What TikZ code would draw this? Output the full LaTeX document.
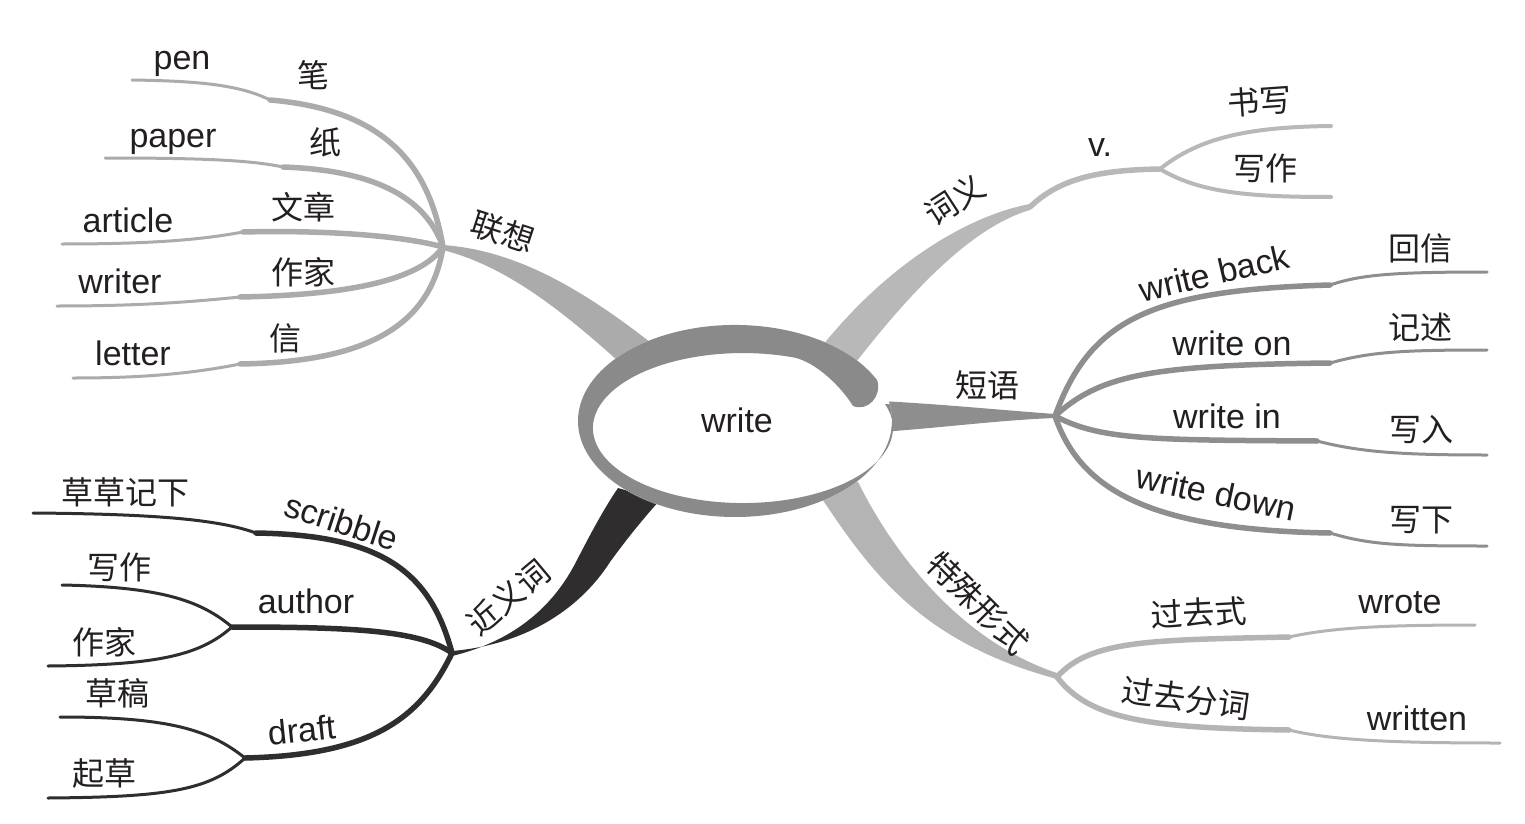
\documentclass[tikz,border=0pt]{standalone}
\usepackage{fontspec}
\setmainfont{Liberation Sans}
\newfontfamily\cjk{Noto Sans CJK SC}
\definecolor{cLX}{HTML}{ABABAB}
\definecolor{cJY}{HTML}{2F2D2E}
\definecolor{cCY}{HTML}{B8B8B8}
\definecolor{cDY}{HTML}{8E8E8E}
\definecolor{cTS}{HTML}{B4B4B4}
\definecolor{cRing}{HTML}{8A8A8A}
\definecolor{txt}{HTML}{231F20}
\tikzset{
  en/.style={font=\fontsize{34}{40}\selectfont, text=txt, inner sep=0pt},
  zh/.style={font=\cjk\fontsize{32}{38}\selectfont, text=txt, inner sep=0pt},
  inb/.style={line width=5.5, line cap=round},
  outb/.style={line width=3, line cap=round},
}
\begin{document}
\begin{tikzpicture}[x=1pt,y=-1pt]
\fill[white] (0,0) rectangle (1525,824);
\useasboundingbox (0,0) rectangle (1525,824);

% ---------- coordinates ----------
\coordinate (hLX) at (443,247);
\coordinate (kPen) at (270,100);   \coordinate (ePen) at (132,80);
\coordinate (kPaper) at (283,167); \coordinate (ePaper) at (105,158);
\coordinate (kArt) at (243,232);   \coordinate (eArt) at (62,244);
\coordinate (kWri) at (240,297);   \coordinate (eWri) at (57,306);
\coordinate (kLet) at (240,364);   \coordinate (eLet) at (73,378);

\coordinate (hJY) at (452,653);
\coordinate (kScr) at (256,533);   \coordinate (eScr) at (33,513);
\coordinate (jAut) at (232,627);
\coordinate (eAut1) at (62,585);   \coordinate (eAut2) at (48,666);
\coordinate (jDra) at (245,758);
\coordinate (eDra1) at (60,717);   \coordinate (eDra2) at (48,798);

\coordinate (kCY) at (1030,207);
\coordinate (hCY) at (1160,169);
\coordinate (eShu) at (1331,126);  \coordinate (eXie) at (1331,197);

\coordinate (hDY) at (1055,416);
\coordinate (kBack) at (1330,285); \coordinate (eBack) at (1487,272);
\coordinate (kOn) at (1330,363);   \coordinate (eOn) at (1487,350);
\coordinate (kIn) at (1317,441);   \coordinate (eIn) at (1487,455);
\coordinate (kDown) at (1330,533); \coordinate (eDown) at (1487,546);

\coordinate (hTS) at (1057,677);
\coordinate (kPast) at (1289,637); \coordinate (ePast) at (1475,625);
\coordinate (kPP) at (1289,730);   \coordinate (ePP) at (1500,743);

% ---------- trunks ----------
\fill[cLX] (443,245) .. controls (510,250) and (575,282) .. (660,350)
  -- (628,370) .. controls (560,308) and (505,266) .. (443,250) -- cycle;
\fill[cJY] (452,656) .. controls (510,642) and (552,610) .. (577,560)
  .. controls (590,535) and (603,510) .. (618,488)
  -- (660,500) .. controls (642,520) and (626,540) .. (610,562)
  .. controls (578,612) and (522,645) .. (452,651) -- cycle;
\fill[cCY] (1030,204) .. controls (975,214) and (890,258) .. (815,355)
  -- (850,370) .. controls (915,285) and (975,226) .. (1030,210) -- cycle;
\fill[cDY] (1055,414) .. controls (1000,410) and (940,404) .. (880,401)
  -- (880,432) .. controls (940,428) and (1000,420) .. (1055,418) -- cycle;
\fill[cTS] (815,488) .. controls (870,572) and (920,642) .. (1057,679)
  -- (1057,673) .. controls (972,645) and (902,570) .. (858,482) -- cycle;

% ---------- sub-branches: lianxiang ----------
\draw[cLX, inb] (hLX) .. controls (430,170) and (390,110) .. (kPen);
\draw[cLX, outb] (kPen) .. controls (240,85) and (200,81) .. (ePen);
\draw[cLX, inb] (hLX) .. controls (425,195) and (370,170) .. (kPaper);
\draw[cLX, outb] (kPaper) .. controls (250,160) and (200,158) .. (ePaper);
\draw[cLX, inb] (hLX) .. controls (400,235) and (320,230) .. (kArt);
\draw[cLX, outb] (kArt) .. controls (200,240) and (150,244) .. (eArt);
\draw[cLX, inb] (hLX) .. controls (420,280) and (350,295) .. (kWri);
\draw[cLX, outb] (kWri) .. controls (190,302) and (140,306) .. (eWri);
\draw[cLX, inb] (hLX) .. controls (430,330) and (360,362) .. (kLet);
\draw[cLX, outb] (kLet) .. controls (190,374) and (140,378) .. (eLet);

% ---------- sub-branches: jinyici ----------
\draw[cJY, inb] (hJY) .. controls (430,570) and (380,535) .. (kScr);
\draw[cJY, outb] (kScr) .. controls (220,520) and (160,514) .. (eScr);
\draw[cJY, inb] (hJY) .. controls (420,630) and (350,627) .. (jAut);
\draw[cJY, outb] (jAut) .. controls (200,600) and (160,587) .. (eAut1);
\draw[cJY, outb] (jAut) .. controls (200,655) and (160,665) .. (eAut2);
\draw[cJY, inb] (hJY) .. controls (420,720) and (370,755) .. (jDra);
\draw[cJY, outb] (jDra) .. controls (210,730) and (170,717) .. (eDra1);
\draw[cJY, outb] (jDra) .. controls (210,790) and (170,797) .. (eDra2);

% ---------- sub-branches: ciyi ----------
\draw[cCY, inb] (kCY) .. controls (1060,178) and (1100,170) .. (hCY);
\draw[cCY, line width=4, line cap=round] (hCY) .. controls (1200,137) and (1250,127) .. (eShu);
\draw[cCY, line width=4, line cap=round] (hCY) .. controls (1200,193) and (1250,197) .. (eXie);

% ---------- sub-branches: duanyu ----------
\draw[cDY, inb] (hDY) .. controls (1090,320) and (1150,290) .. (kBack);
\draw[cDY, outb] (kBack) .. controls (1360,275) and (1390,272) .. (eBack);
\draw[cDY, inb] (hDY) .. controls (1100,375) and (1150,365) .. (kOn);
\draw[cDY, outb] (kOn) .. controls (1370,352) and (1400,350) .. (eOn);
\draw[cDY, inb] (hDY) .. controls (1100,440) and (1150,440) .. (kIn);
\draw[cDY, outb] (kIn) .. controls (1360,452) and (1400,455) .. (eIn);
\draw[cDY, inb] (hDY) .. controls (1080,490) and (1150,530) .. (kDown);
\draw[cDY, outb] (kDown) .. controls (1370,545) and (1400,546) .. (eDown);

% ---------- sub-branches: teshu xingshi ----------
\draw[cTS, inb] (hTS) .. controls (1090,640) and (1150,640) .. (kPast);
\draw[cTS, outb] (kPast) .. controls (1330,628) and (1380,625) .. (ePast);
\draw[cTS, inb] (hTS) .. controls (1090,720) and (1150,728) .. (kPP);
\draw[cTS, outb] (kPP) .. controls (1330,740) and (1390,743) .. (ePP);

% ---------- central ring ----------
\fill[white] (735,421) ellipse [x radius=157, y radius=96];
\fill[cRing] (877.3,380.4) arc[start angle=-25, end angle=-370, x radius=157, y radius=96]
  -- (885,404) arc[start angle=-378.7, end angle=-70, x radius=150, y radius=75]
  .. controls (815,362) and (840,385) .. (853,406)
  .. controls (868,412) and (882,396) .. (877.3,380.4) -- cycle;
\node[en, anchor=base] (write) at (737,432) {write};

% ---------- labels ----------
\node[zh, rotate=-18] (lianxiang) at (503,232) {联想};
\node[en, anchor=base] (pen) at (182,70) {pen};
\node[zh] (bi) at (313,75) {笔};
\node[en, anchor=base] (paper) at (173,147) {paper};
\node[zh] (zhi) at (325,142) {纸};
\node[en, anchor=base] (article) at (128,232) {article};
\node[zh] (wenzhang) at (303,207) {文章};
\node[en, anchor=base] (writer) at (120,293) {writer};
\node[zh] (zuojiaA) at (303,272) {作家};
\node[en, anchor=base] (letter) at (133,365) {letter};
\node[zh] (xin) at (285,338) {信};

\node[zh, rotate=40] (jinyici) at (508,597) {近义词};
\node[zh] (caocao) at (125,492) {草草记下};
\node[en, rotate=-18] (scribble) at (342,522) {scribble};
\node[zh] (xiezuoA) at (119,567) {写作};
\node[en, anchor=base] (author) at (306,613) {author};
\node[zh] (zuojiaB) at (104,642) {作家};
\node[zh] (caogao) at (117,693) {草稿};
\node[en, rotate=6] (draft) at (302,730) {draft};
\node[zh] (qicao) at (104,773) {起草};

\node[zh, rotate=33] (ciyi) at (955,200) {词义};
\node[en, anchor=base] (v) at (1100,157) {v.};
\node[zh, rotate=4] (shuxie) at (1260,101) {书写};
\node[zh] (xiezuoB) at (1265,168) {写作};

\node[zh] (duanyu) at (987,385) {短语};
\node[en, rotate=13] (wback) at (1214,273) {write back};
\node[zh] (huixin) at (1420,248) {回信};
\node[en, anchor=base] (won) at (1232,355) {write on};
\node[zh] (jishu) at (1420,327) {记述};
\node[en, anchor=base] (win) at (1227,428) {write in};
\node[zh] (xieru) at (1421,430) {写入};
\node[en, rotate=-12] (wdown) at (1216,493) {write down};
\node[zh] (xiexia) at (1421,520) {写下};

\node[zh, rotate=-45] (teshu) at (978,603) {特殊形式};
\node[zh, rotate=3] (guoqushi) at (1199,613) {过去式};
\node[en, anchor=base] (wrote) at (1400,613) {wrote};
\node[zh, rotate=-8] (guoqufenci) at (1186,698) {过去分词};
\node[en, anchor=base] (written) at (1417,730) {written};
\end{tikzpicture}
\end{document}
